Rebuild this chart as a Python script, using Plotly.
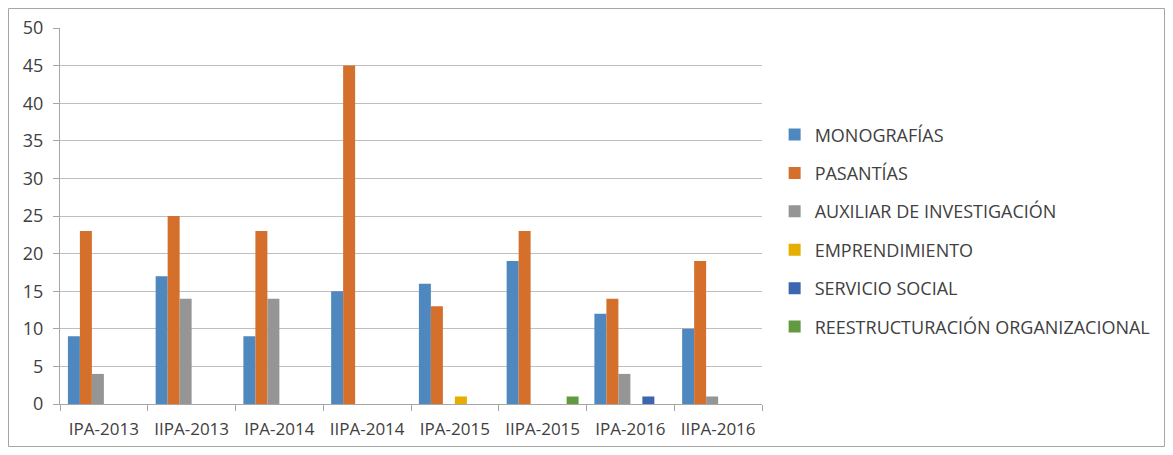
import plotly.graph_objects as go

categories = ["IPA-2013", "IIPA-2013", "IPA-2014", "IIPA-2014", "IPA-2015", "IIPA-2015", "IPA-2016", "IIPA-2016"]
monografias = [9, 17, 9, 15, 16, 19, 12, 10]
pasantias = [23, 25, 23, 45, 13, 23, 14, 19]
auxiliar = [4, 14, 14, 0, 0, 0, 4, 1]
emprendimiento = [0, 0, 0, 0, 1, 0, 0, 0]
servicio_social = [0, 0, 0, 0, 0, 0, 1, 0]
reestructuracion = [0, 0, 0, 0, 0, 1, 0, 0]

series = [
    ("MONOGRAFÍAS", monografias, "#4E88BE"),
    ("PASANTÍAS", pasantias, "#D4702C"),
    ("AUXILIAR DE INVESTIGACIÓN", auxiliar, "#959595"),
    ("EMPRENDIMIENTO", emprendimiento, "#E5AE00"),
    ("SERVICIO SOCIAL", servicio_social, "#3D65B0"),
    ("REESTRUCTURACIÓN ORGANIZACIONAL", reestructuracion, "#629A3F"),
]

fig = go.Figure()
for i, (name, vals, color) in enumerate(series):
    fig.add_trace(go.Bar(x=categories, y=vals, name=name, marker=dict(color=color, line=dict(width=0)),
                         legendgroup=f"g{i}"))

W, H = 1157, 439
L, R, T, B = 52, 403, 20, 43
pw, ph = W - L - R, H - T - B

font_family = "Open Sans, Liberation Sans, sans-serif"
fig.update_layout(
    width=W, height=H,
    margin=dict(l=L, r=R, t=T, b=B, autoexpand=False),
    paper_bgcolor="white", plot_bgcolor="white",
    barmode="group", bargap=0.18, bargroupgap=0,
    font=dict(family=font_family, size=17, color="#404040"),
    showlegend=True,
    legend=dict(x=1.018, xanchor="left", y=0.765, yanchor="top",
                font=dict(size=18, color="#404040"), tracegroupgap=12,
                itemwidth=30, bgcolor="rgba(0,0,0,0)"),
    xaxis=dict(showline=True, linecolor="#A6A6A6", linewidth=1, ticks="outside",
               tickson="boundaries", ticklen=6, tickcolor="#A6A6A6", tickangle=0,
               automargin=False, ticklabelstandoff=10,
               tickfont=dict(size=17, color="#404040"), showgrid=False),
    yaxis=dict(range=[0, 50], dtick=5, showline=True, linecolor="#A6A6A6", linewidth=1,
               ticks="outside", ticklen=6, tickcolor="#A6A6A6", automargin=False,
               ticklabelstandoff=6,
               showgrid=True, gridcolor="#BFBFBF", gridwidth=1,
               tickfont=dict(size=18, color="#404040"), zeroline=False),
    shapes=[dict(type="rect", xref="paper", yref="paper",
                 x0=(0.5 - L) / pw, x1=(W - 0.5 - L) / pw,
                 y0=(H - B - (H - 0.5)) / ph, y1=(H - B - 0.5) / ph,
                 line=dict(color="#A6A6A6", width=1), layer="below")],
)

fig.write_html("out.html")
